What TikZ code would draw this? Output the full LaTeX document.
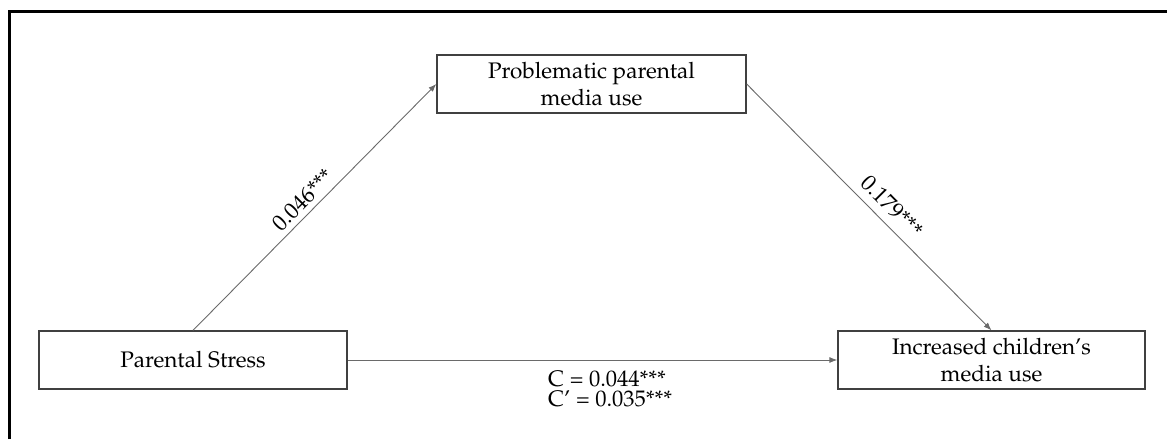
\documentclass[tikz,border=0pt]{standalone}
\usepackage[T1]{fontenc}
\renewcommand{\rmdefault}{ppl}
\usetikzlibrary{arrows.meta}
\definecolor{boxgray}{HTML}{404040}
\definecolor{linegray}{HTML}{6A6A6A}
\begin{document}
\begin{tikzpicture}[x=1pt,y=-1pt,
  box/.style={draw=boxgray,line width=1.3pt,minimum width=308pt,minimum height=58pt,align=center,inner sep=0pt,font=\fontsize{22.5}{27}\selectfont},
  conn/.style={draw=linegray,line width=0.9pt,-{Latex[length=8pt,width=6pt]}},
  lab/.style={font=\fontsize{22.5}{25}\selectfont,inner sep=0pt},
  frame/.style={draw=black,line width=2.6pt}]
\useasboundingbox (0,0) rectangle (1167,439);
\draw[frame] (9.5,439) -- (9.5,11.5) -- (1167,11.5);
\node[box] (ps) at (193,360) {Parental Stress};
\node[box,minimum width=307pt] (inc) at (991.5,360) {Increased children's\\media use};
\node[box,minimum width=309pt] (pm) at (591.5,84) {Problematic parental\\media use};
\draw[conn] (ps.north) -- node[lab,sloped,above=5pt,pos=0.49] (l1) {0.046***} (pm.west);
\draw[conn] (pm.east) -- node[lab,sloped,above=8pt,pos=0.545] (l2) {0.179***} (inc.north);
\draw[conn] (ps.east) -- (inc.west);
\node[lab,anchor=base west] (c1) at (548,386) {C = 0.044***};
\node[lab,anchor=base west] (c2) at (548,406.5) {C' = 0.035***};
\end{tikzpicture}
\end{document}
